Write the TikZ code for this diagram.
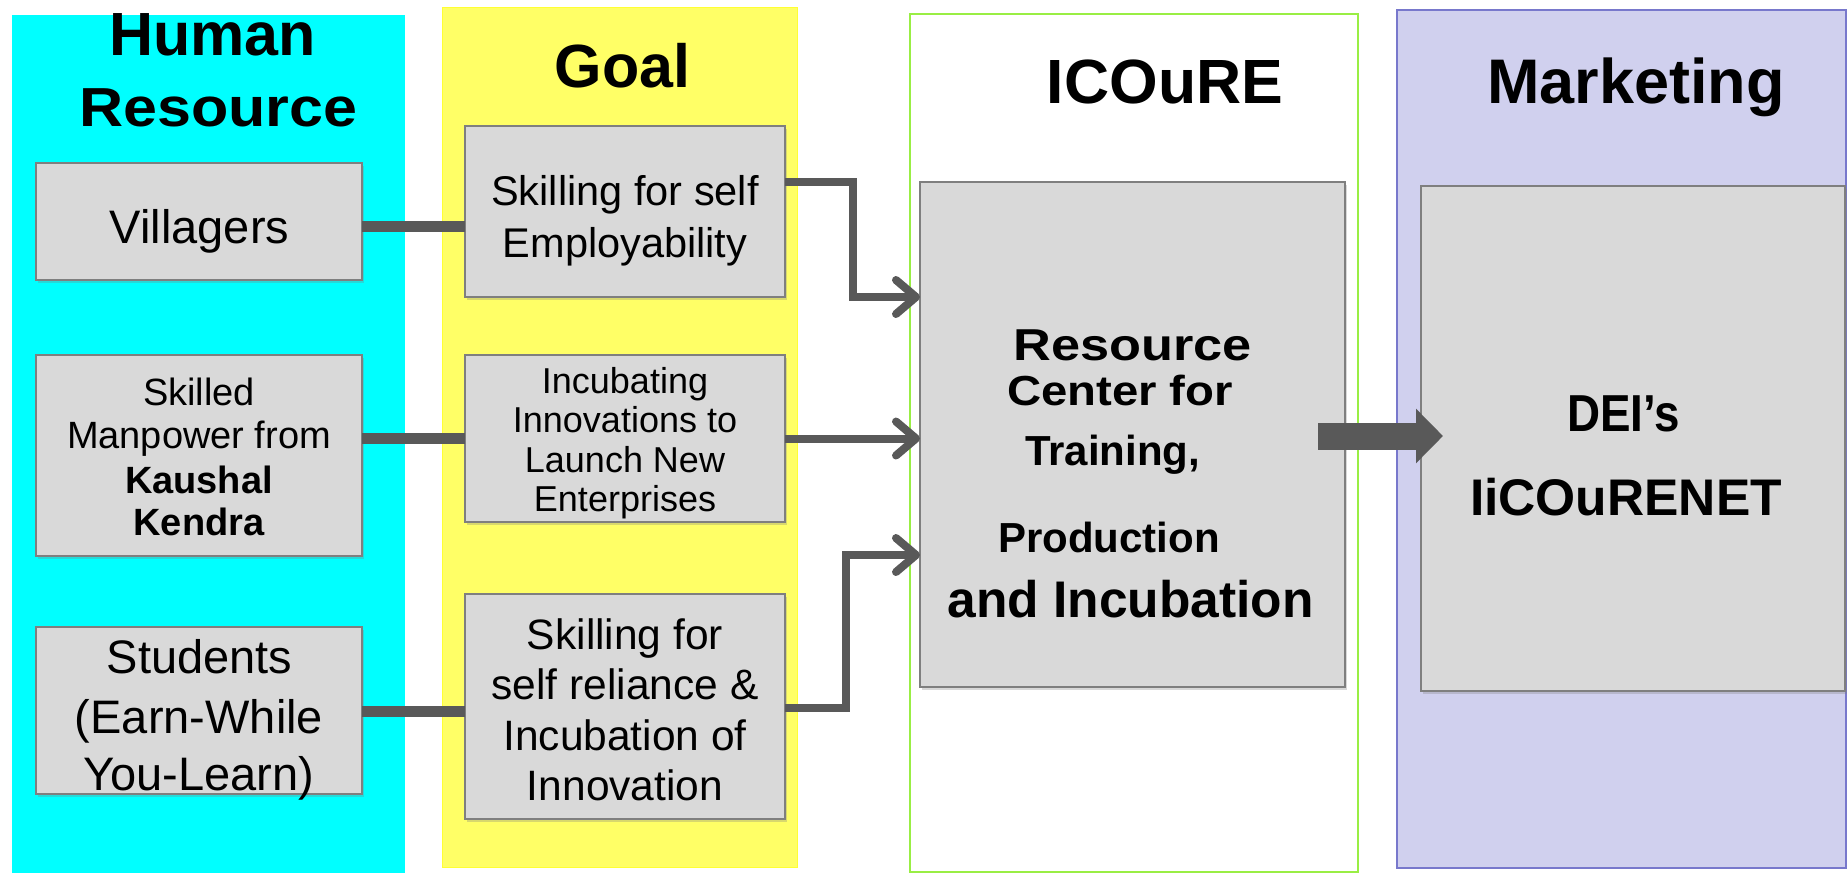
\documentclass[tikz,border=0pt]{standalone}
\usepackage{fontspec}
\setmainfont{Liberation Sans}
\usepackage{graphicx}
\usetikzlibrary{arrows.meta,shadows,fit,calc}
\definecolor{hrcyan}{HTML}{00FFFF}
\definecolor{goalyel}{HTML}{FFFF66}
\definecolor{goaledge}{HTML}{FFFF33}
\definecolor{icgreen}{HTML}{99EE44}
\definecolor{mkfill}{HTML}{D0D0EE}
\definecolor{mkedge}{HTML}{7878CC}
\definecolor{boxfill}{HTML}{D9D9D9}
\definecolor{boxedge}{HTML}{7F7F7F}
\definecolor{conncol}{HTML}{595959}
\newcommand{\myfs}[1]{\fontsize{#1}{#1}\selectfont}
\begin{document}
\begin{tikzpicture}[x=1pt,y=-1pt,
  col/.style={inner sep=0pt, outer sep=0pt},
  gbox/.style={draw=boxedge, line width=1.5pt, fill=boxfill, inner sep=0pt, outer sep=0pt,
    drop shadow={shadow xshift=2pt, shadow yshift=-3pt, opacity=.3}},
  link/.style={draw=conncol, line width=11pt},
  arr/.style={draw=conncol, line width=8pt, -{Straight Barb[length=20pt, width=34pt, round]}},
  bigarr/.style={draw=conncol, line width=27pt, -{Triangle[length=27pt, width=53pt]}},
  txt/.style={anchor=base, inner sep=0pt, outer sep=0pt},
]
\useasboundingbox (0,0) rectangle (1847,873);
\fill[white] (0,0) rectangle (1847,873);

% columns
\node[col, fill=hrcyan, fit={(12,15)(405,873)}] (hrcol) {};
\node[col, fill=goalyel, draw=goaledge, line width=1pt, fit={(442,7)(797,867)}] (goalcol) {};
\node[col, fill=white, draw=icgreen, line width=2pt, fit={(910,14)(1358,872)}] (iccol) {};
\node[col, fill=mkfill, draw=mkedge, line width=1.5pt, fit={(1397,10)(1846,868)}] (mkcol) {};

% boxes
\node[gbox, fit={(36,163)(362,280)}] (vil) {};
\node[gbox, fit={(465,126)(785,297)}] (skl1) {};
\node[gbox, fit={(36,355)(362,556)}] (skm) {};
\node[gbox, fit={(465,355)(785,522)}] (inc) {};
\node[gbox, fit={(36,627)(362,794)}] (stu) {};
\node[gbox, fit={(465,594)(785,819)}] (skl2) {};
\node[gbox, fit={(920,182)(1345,687)}] (res) {};
\node[gbox, fit={(1421,186)(1845,691)}] (dei) {};

% connection levels
\coordinate (l1) at (0,226);
\coordinate (l2) at (0,438.5);
\coordinate (l3) at (0,711);
\coordinate (b1) at (853,182);
\coordinate (b1e) at (853,297);
\coordinate (b3) at (846,708);
\coordinate (b3e) at (846,555);

% thick links
\draw[link] (vil.east |- l1) -- (skl1.west |- l1);
\draw[link] (skm.east |- l2) -- (inc.west |- l2);
\draw[link] (stu.east |- l3) -- (skl2.west |- l3);

% arrows into resource centre
\draw[arr] (skl1.east |- b1) -- (b1) -- (b1e) -- (res.west |- b1e);
\draw[arr] (inc.east |- l2) -- (res.west |- l2);
\draw[arr] (skl2.east |- b3) -- (b3) -- (b3e) -- (res.west |- b3e);

% big arrow
\coordinate (bs) at ([xshift=-27pt, yshift=-1.5pt]res.east);
\coordinate (be) at ([xshift=22pt]dei.west |- bs);
\draw[bigarr] (bs) -- (be);

% headers
\node[txt, font=\bfseries\myfs{61}] (hrt1) at (212.5,55) {Human};
\node[txt, font=\bfseries\myfs{55}] (hrt2) at (218.5,126) {\scalebox{1.11}[1]{Resource}};
\node[txt, font=\bfseries\myfs{61}] (goalt) at (622.5,87) {Goal};
\node[txt, font=\bfseries\myfs{62.5}] (ict) at (1165,103) {ICOuRE};
\node[txt, font=\bfseries\myfs{63}] (mkt) at (1636,103) {Marketing};

% box texts
\node[txt, font=\myfs{47}] (vilt) at (199.5,243) {Villagers};

\node[txt, font=\myfs{41.5}] (skl1a) at (625,205) {Skilling for self};
\node[txt, font=\myfs{41.5}] (skl1b) at (625,257) {Employability};

\node[txt, font=\myfs{38}] (skma) at (199,405) {Skilled};
\node[txt, font=\myfs{38}] (skmb) at (199,448) {Manpower from};
\node[txt, font=\bfseries\myfs{38}] (skmc) at (199,493) {Kaushal};
\node[txt, font=\bfseries\myfs{38}] (skmd) at (199,535) {Kendra};

\node[txt, font=\myfs{36}] (inca) at (625,393) {Incubating};
\node[txt, font=\myfs{36}] (incb) at (625,432) {Innovations to};
\node[txt, font=\myfs{36}] (incc) at (625,472) {Launch New};
\node[txt, font=\myfs{36}] (incd) at (625,511) {Enterprises};

\node[txt, font=\myfs{47}] (stua) at (199.5,673) {Students};
\node[txt, font=\myfs{47}] (stub) at (199,733) {(Earn-While};
\node[txt, font=\myfs{47}] (stuc) at (199,790) {You-Learn)};

\node[txt, font=\myfs{42.5}] (skl2a) at (625,649) {Skilling for};
\node[txt, font=\myfs{42.5}] (skl2b) at (625,699) {self reliance \&};
\node[txt, font=\myfs{42.5}] (skl2c) at (625,750) {Incubation of};
\node[txt, font=\myfs{42.5}] (skl2d) at (625,800) {Innovation};

\node[txt, font=\bfseries\myfs{44.7}] (resa) at (1132.5,360) {\scalebox{1.17}[1]{Resource}};
\node[txt, font=\bfseries\myfs{42}] (resb) at (1120,405) {\scalebox{1.126}[1]{Center for}};
\node[txt, font=\bfseries\myfs{42}] (resc) at (1112.5,465) {Training,};
\node[txt, font=\bfseries\myfs{42}] (resd) at (1109,552) {Production};
\node[txt, font=\bfseries\myfs{51.5}] (rese) at (1130.5,617) {and Incubation};

\node[txt, font=\bfseries\myfs{52}] (deia) at (1623.5,431) {\scalebox{0.88}[1]{DEI’s}};
\node[txt, font=\bfseries\myfs{51.5}] (deib) at (1626,515) {IiCOuRENET};
\end{tikzpicture}
\end{document}
